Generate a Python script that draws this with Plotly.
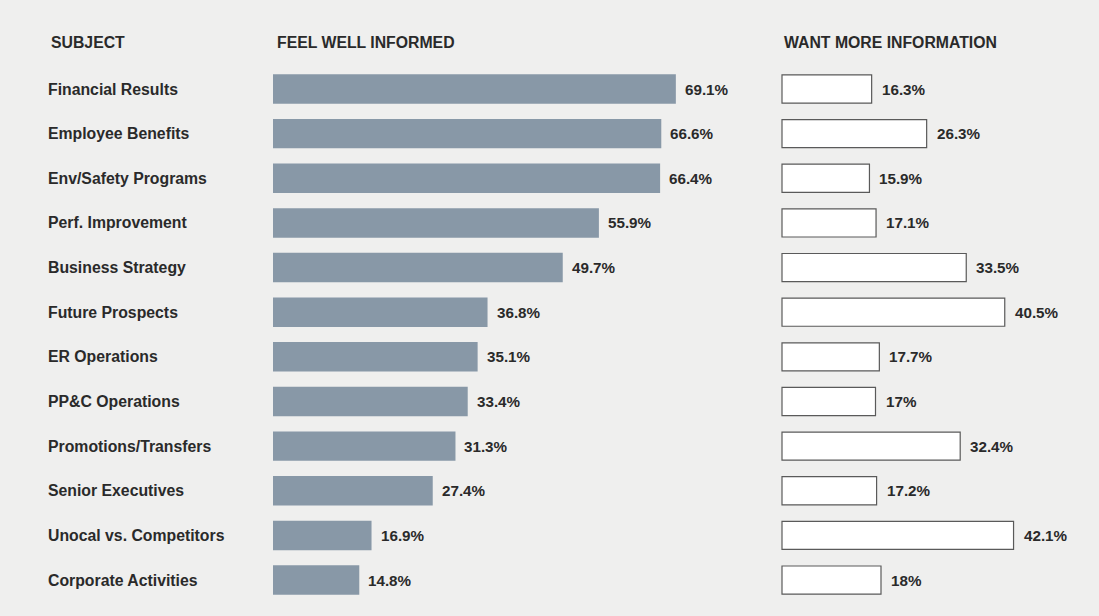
import plotly.graph_objects as go

# Survey results by subject
subjects = [
    "Financial Results", "Employee Benefits", "Env/Safety Programs",
    "Perf. Improvement", "Business Strategy", "Future Prospects",
    "ER Operations", "PP&C Operations", "Promotions/Transfers",
    "Senior Executives", "Unocal vs. Competitors", "Corporate Activities",
]
feel_well_informed = [69.1, 66.6, 66.4, 55.9, 49.7, 36.8, 35.1, 33.4, 31.3, 27.4, 16.9, 14.8]
want_more_info = [16.3, 26.3, 15.9, 17.1, 33.5, 40.5, 17.7, 17.0, 32.4, 17.2, 42.1, 18.0]

headers = ["SUBJECT", "FEEL WELL INFORMED", "WANT MORE INFORMATION"]

W, H = 1099, 616
FONT = "Liberation Sans, Arial, Helvetica, sans-serif"
TXT = "#2a2a2a"
BAR = "#8898a7"
BG = "#efefee"

rows = list(range(len(subjects)))
row_px = 44.64
first_px = 89.0
y_range = [(H - first_px) / row_px, -first_px / row_px]

# left panel: zero at 273px, 5.83 px per percent
l0, lscale = 273.0, 5.83
# right panel: zero at 782px, 5.5 px per percent
r0, rscale = 782.0, 5.5

fig = go.Figure()
fig.add_trace(go.Bar(
    x=feel_well_informed, y=rows, orientation="h", base=0,
    width=0.66, marker=dict(color=BAR, line=dict(width=0)),
    xaxis="x", yaxis="y", hoverinfo="skip",
))
fig.add_trace(go.Bar(
    x=want_more_info, y=rows, orientation="h", base=0,
    width=0.63, marker=dict(color="white", line=dict(color="#5a5a5a", width=1.2)),
    xaxis="x2", yaxis="y", hoverinfo="skip",
))

ann = []
for i, s in enumerate(subjects):
    ann.append(dict(x=46 / W, xref="paper", y=i, yref="y", text=s, showarrow=False,
                    xanchor="left", yanchor="middle",
                    font=dict(family=FONT, size=15.8, color=TXT, weight="bold")))
for i, v in enumerate(feel_well_informed):
    ann.append(dict(x=v, xref="x", y=i, yref="y", text=f"{v:g}%", showarrow=False,
                    xanchor="left", yanchor="middle", xshift=7,
                    font=dict(family=FONT, size=15.2, color=TXT, weight="bold")))
for i, v in enumerate(want_more_info):
    ann.append(dict(x=v, xref="x2", y=i, yref="y", text=f"{v:g}%", showarrow=False,
                    xanchor="left", yanchor="middle", xshift=8,
                    font=dict(family=FONT, size=15.2, color=TXT, weight="bold")))
for hx, h in zip([49, 275, 782], headers):
    ann.append(dict(x=hx / W, xref="paper", y=-1.05, yref="y", text=h, showarrow=False,
                    xanchor="left", yanchor="middle",
                    font=dict(family=FONT, size=15.8, color=TXT, weight="bold")))

axis_common = dict(showgrid=False, zeroline=False, showticklabels=False,
                   showline=False, ticks="", fixedrange=True)
fig.update_layout(
    width=W, height=H,
    margin=dict(l=0, r=0, t=0, b=0),
    paper_bgcolor=BG, plot_bgcolor=BG,
    showlegend=False, barmode="overlay",
    xaxis=dict(range=[-l0 / lscale, (W - l0) / lscale], domain=[0, 1], **axis_common),
    xaxis2=dict(range=[-r0 / rscale, (W - r0) / rscale], domain=[0, 1],
                overlaying="x", **axis_common),
    yaxis=dict(range=y_range, domain=[0, 1], **axis_common),
    annotations=ann,
)

fig.write_html("out.html")
